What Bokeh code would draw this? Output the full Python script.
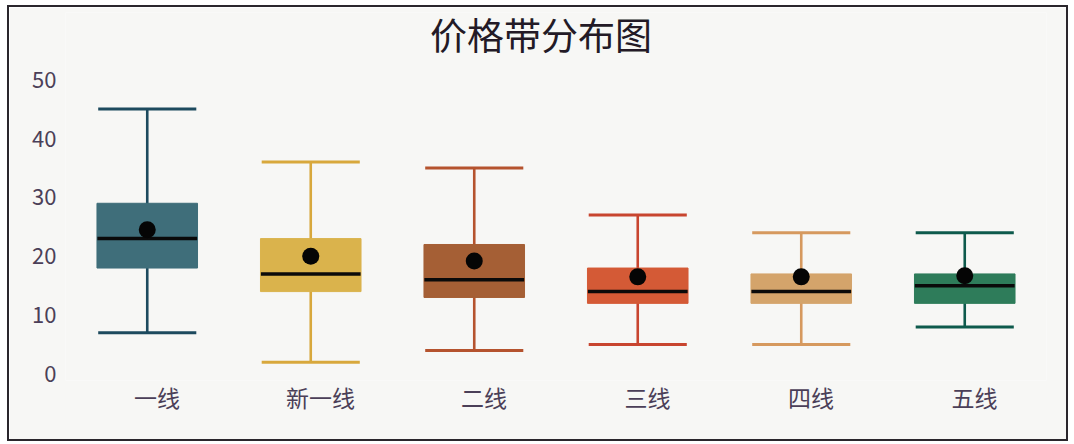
from bokeh.plotting import figure
from bokeh.models import (ColumnDataSource, Range1d, LinearAxis, FixedTicker, Label)
from bokeh.transform import dodge
from bokeh.embed import file_html
from bokeh.resources import INLINE

title_text = "价格带分布图"
categories = ["一线", "新一线", "二线", "三线", "四线", "五线"]
upper = [45, 36, 35, 27, 24, 24]
q3 = [29, 23, 22, 18, 17, 17]
median = [23, 17, 16, 14, 14, 15]
q1 = [18, 14, 13, 12, 12, 12]
lower = [7, 2, 4, 5, 5, 8]
mean = [24.5, 20, 19.2, 16.5, 16.5, 16.7]
fill_colors = ["#3f6e7a", "#dab34c", "#a55f35", "#d45a36", "#d4a46b", "#2e7c5a"]
line_colors = ["#1d4a5e", "#d8a83c", "#b5532e", "#c8452f", "#d6995e", "#0e5a4c"]
y_ticks = [0, 10, 20, 30, 40, 50]

n = len(categories)
pos = list(range(n))  # slot index of each category

src = ColumnDataSource(dict(pos=pos, cat=categories, upper=upper, q3=q3,
                            median=median, q1=q1, lower=lower, mean=mean,
                            fill=fill_colors, line=line_colors))

BG = "#f7f7f5"
FONT = "Noto Sans CJK SC"
TEXT_COLOR = "#4b3f58"
LABEL_SHIFT = 0.06  # category labels sit slightly right of box centres
Y_TOP = 61.4        # frame extends up to hold the title
TITLE_Y = 57.7

p = figure(width=1061, height=436, x_range=Range1d(-0.5, n - 0.5),
           y_range=(-1.1, Y_TOP), output_backend="svg", toolbar_location=None,
           x_axis_location=None,
           min_border_left=56, min_border_right=24, min_border_top=5,
           min_border_bottom=63)
p.styles = {"border": "2px solid #2a262c", "margin-left": "7px", "margin-top": "5px"}
p.background_fill_color = BG
p.border_fill_color = BG
p.outline_line_color = None
p.grid.grid_line_color = None

title = Label(x=(n - 1) / 2, y=TITLE_Y, x_offset=-15, text=title_text,
              text_font=FONT, text_font_size="37px", text_color="#231a26",
              text_align="center", text_baseline="middle")
p.add_layout(title)

p.extra_x_ranges = {"lab": Range1d(-0.5 - LABEL_SHIFT, n - 0.5 - LABEL_SHIFT)}
xax = LinearAxis(x_range_name="lab", ticker=FixedTicker(ticks=pos),
                 major_label_overrides={i: c for i, c in zip(pos, categories)})
p.add_layout(xax, "below")

for ax in (xax, p.yaxis[0]):
    ax.axis_line_color = None
    ax.major_tick_line_color = None
    ax.minor_tick_line_color = None
    ax.major_label_text_font = FONT
    ax.major_label_text_color = TEXT_COLOR
xax.major_label_text_font_size = "23px"
p.yaxis.major_label_text_font_size = "22px"
xax.major_label_standoff = -7
p.yaxis.major_label_standoff = 3
p.yaxis.ticker = y_ticks

# whisker stems
p.segment(x0="pos", y0="lower", x1="pos", y1="upper", source=src,
          line_color="line", line_width=2.6)
# caps
p.segment(x0=dodge("pos", -0.3), y0="upper", x1=dodge("pos", 0.3), y1="upper",
          source=src, line_color="line", line_width=3)
p.segment(x0=dodge("pos", -0.3), y0="lower", x1=dodge("pos", 0.3), y1="lower",
          source=src, line_color="line", line_width=3)
# boxes
p.vbar(x="pos", top="q3", bottom="q1", width=0.615, source=src,
       fill_color="fill", line_color="fill", line_width=1)
# medians
p.segment(x0=dodge("pos", -0.305), y0="median", x1=dodge("pos", 0.305),
          y1="median", source=src, line_color="#0a0a0a", line_width=3.5)
# means
p.scatter(x="pos", y="mean", source=src, size=17, fill_color="#050505",
          line_color=None)

open("out.html", "w").write(file_html(p, INLINE))
